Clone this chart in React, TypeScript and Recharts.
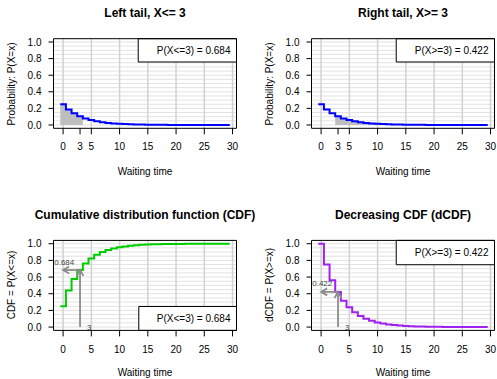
import React from 'react';
import { ComposedChart, Line, Area, XAxis, YAxis, CartesianGrid, ReferenceArea, ReferenceLine, ReferenceDot } from 'recharts';

// geometric distribution, waiting time values
const waiting = [0, 1, 2, 3, 4, 5, 6, 7, 8, 9, 10, 11, 12, 13, 14, 15, 16, 17, 18, 19, 20, 21, 22, 23, 24, 25, 26, 27, 28, 29];
const pmf = [0.25, 0.1875, 0.1406, 0.1055, 0.0791, 0.0593, 0.0445, 0.0334, 0.025, 0.0188, 0.0141, 0.0106, 0.0079, 0.0059, 0.0045, 0.0033, 0.0025, 0.0019, 0.0014, 0.0011, 0.0008, 0.0006, 0.0004, 0.0003, 0.0003, 0.0002, 0.0001, 0.0001, 0.0001, 0.0001];
const cdf = [0.25, 0.4375, 0.5781, 0.6836, 0.7627, 0.822, 0.8665, 0.8999, 0.9249, 0.9437, 0.9578, 0.9683, 0.9762, 0.9822, 0.9866, 0.99, 0.9925, 0.9944, 0.9958, 0.9968, 0.9976, 0.9982, 0.9987, 0.999, 0.9992, 0.9994, 0.9996, 0.9997, 0.9998, 0.9998];
const dcdf = [1, 0.75, 0.5625, 0.4219, 0.3164, 0.2373, 0.178, 0.1335, 0.1001, 0.0751, 0.0563, 0.0422, 0.0317, 0.0238, 0.0178, 0.0134, 0.01, 0.0075, 0.0056, 0.0042, 0.0032, 0.0024, 0.0018, 0.0013, 0.001, 0.0008, 0.0006, 0.0004, 0.0003, 0.0002];

const cutoff = 3;
const cdfAt = 0.684;
const dcdfAt = 0.422;
const leftLegend = 'P(X<=3) = 0.684';
const rightLegend = 'P(X>=3) = 0.422';

const xTicksTop = [0, 3, 5, 10, 15, 20, 25, 30];
const xTicksBottom = [0, 5, 10, 15, 20, 25, 30];
const yTicks = [0, 0.2, 0.4, 0.6, 0.8, 1];
const hGrid = [0, 0.05, 0.1, 0.15, 0.2, 0.25, 0.3, 0.35, 0.4, 0.45, 0.5, 0.55, 0.6, 0.65, 0.7, 0.75, 0.8, 0.85, 0.9, 0.95, 1];
const vGrid = [0, 5, 10, 15, 20, 25, 30];

const XDOM: [number, number] = [-1.7, 30.7];
const YDOM: [number, number] = [-0.04, 1.04];

// step edges sit half way between integers
const last = waiting.length - 1;
const rows = [
  ...waiting.map((k, i) => ({
    x: k - 0.5,
    pmf: pmf[i],
    cdf: cdf[i],
    dcdf: dcdf[i],
    left: k <= cutoff + 1 ? pmf[i] : null,
    right: k >= cutoff ? pmf[i] : null,
  })),
  { x: waiting[last] + 0.5, pmf: pmf[last], cdf: cdf[last], dcdf: dcdf[last], left: null, right: pmf[last] },
];

const FONT = '"Liberation Sans", Arial, Helvetica, sans-serif';

const arrowShape = (p: any) => {
  const { x1, y1, x2, y2 } = p;
  const a = Math.atan2(y2 - y1, x2 - x1);
  const L = 7;
  const s = Math.PI / 6;
  const hx1 = x2 - L * Math.cos(a - s), hy1 = y2 - L * Math.sin(a - s);
  const hx2 = x2 - L * Math.cos(a + s), hy2 = y2 - L * Math.sin(a + s);
  return (
    <g stroke="#8c8c8c" strokeWidth={1.8} fill="none">
      <line x1={x1} y1={y1} x2={x2} y2={y2} />
      <path d={`M${hx1},${hy1}L${x2},${y2}L${hx2},${hy2}`} />
    </g>
  );
};

const smallText = (txt: string, dx: number, dy: number, anchor: string) => (p: any) => (
  <text x={p.cx + dx} y={p.cy + dy} textAnchor={anchor} dominantBaseline="central" fontSize={8} fill="#444">
    {txt}
  </text>
);

type Plot = { l: number; r: number; t: number; b: number };

function Panel(props: {
  left: number; top: number; width: number; height: number; plot: Plot;
  title: string; titleY: number; xlabelY: number; ylabel: string; ylabelX: number;
  xTicks: number[]; children: React.ReactNode;
}) {
  const { left, top, width, height, plot } = props;
  const yAxisW = 40;
  const xAxisH = 30;
  const margin = { top: plot.t, right: width - plot.r, bottom: height - plot.b - xAxisH, left: plot.l - yAxisW };
  const cx = (plot.l + plot.r) / 2;
  const cy = (plot.t + plot.b) / 2;
  const center: React.CSSProperties = { position: 'absolute', whiteSpace: 'nowrap', lineHeight: 1, color: '#000' };
  return (
    <div style={{ position: 'absolute', left, top, width, height }}>
      <ComposedChart width={width} height={height} data={rows} margin={margin}>
        <CartesianGrid horizontal vertical={false} horizontalValues={hGrid} stroke="#e2e2e2" strokeWidth={1} />
        <CartesianGrid horizontal={false} vertical verticalValues={vGrid} stroke="#d2d2d2" strokeWidth={1.5} />
        <XAxis
          type="number" dataKey="x" domain={XDOM} allowDataOverflow ticks={props.xTicks} interval={0}
          height={xAxisH} tickSize={6} tickMargin={9} axisLine={false}
          tickLine={{ stroke: '#000' }} tick={{ fill: '#000', fontSize: 10 }}
        />
        <YAxis
          type="number" domain={YDOM} allowDataOverflow ticks={yTicks} interval={0}
          width={yAxisW} tickSize={5} tickMargin={7} axisLine={false}
          tickLine={{ stroke: '#000' }} tick={{ fill: '#000', fontSize: 10 }}
          tickFormatter={(v: number) => v.toFixed(1)}
        />
        {props.children}
        <ReferenceArea x1={XDOM[0]} x2={XDOM[1]} y1={YDOM[0]} y2={YDOM[1]} fill="none" stroke="#000" strokeWidth={1} ifOverflow="visible" />
      </ComposedChart>
      <div style={{ ...center, left: cx, top: props.titleY, transform: 'translate(-50%,-50%)', fontSize: 12, fontWeight: 'bold' }}>{props.title}</div>
      <div style={{ ...center, left: cx, top: props.xlabelY, transform: 'translate(-50%,-50%)', fontSize: 10 }}>Waiting time</div>
      <div style={{ ...center, left: props.ylabelX, top: cy, transform: 'translate(-50%,-50%) rotate(-90deg)', fontSize: 10 }}>{props.ylabel}</div>
    </div>
  );
}

const legendLabel = (v: string) => ({ value: v, position: 'insideRight' as const, offset: 6, fill: '#000', fontSize: 10 });

export default function App() {
  const topPlotL: Plot = { l: 53.5, r: 236.5, t: 38.7, b: 128.3 };
  const topPlotR: Plot = { l: 63.5, r: 246.5, t: 38.7, b: 128.3 };
  const botPlotL: Plot = { l: 53.5, r: 236.5, t: 50.4, b: 140.4 };
  const botPlotR: Plot = { l: 63.5, r: 246.5, t: 50.4, b: 140.4 };
  return (
    <div style={{ position: 'absolute', left: 0, top: 0, width: 497, height: 379, background: '#fff', fontFamily: FONT, overflow: 'hidden' }}>
      <Panel left={0} top={0} width={248} height={190} plot={topPlotL} title="Left tail, X<= 3" titleY={13} xlabelY={172}
        ylabel="Probability: P(X=x)" ylabelX={11.7} xTicks={xTicksTop}>
        <Area type="stepAfter" dataKey="left" baseValue={0} stroke="none" fill="#bebebe" fillOpacity={1} isAnimationActive={false} connectNulls={false} />
        <Line type="stepAfter" dataKey="pmf" stroke="#0000ff" strokeWidth={2} dot={false} isAnimationActive={false} />
        <ReferenceArea x1={13.3} x2={XDOM[1]} y1={0.759} y2={YDOM[1]} fill="#fff" fillOpacity={1} stroke="#000" ifOverflow="visible" label={legendLabel(leftLegend)} />
      </Panel>
      <Panel left={248} top={0} width={249} height={190} plot={topPlotR} title="Right tail, X>= 3" titleY={13} xlabelY={172}
        ylabel="Probability: P(X=x)" ylabelX={21.7} xTicks={xTicksTop}>
        <Area type="stepAfter" dataKey="right" baseValue={0} stroke="none" fill="#bebebe" fillOpacity={1} isAnimationActive={false} connectNulls={false} />
        <Line type="stepAfter" dataKey="pmf" stroke="#0000ff" strokeWidth={2} dot={false} isAnimationActive={false} />
        <ReferenceArea x1={13.3} x2={XDOM[1]} y1={0.759} y2={YDOM[1]} fill="#fff" fillOpacity={1} stroke="#000" ifOverflow="visible" label={legendLabel(rightLegend)} />
      </Panel>
      <Panel left={0} top={190} width={248} height={189} plot={botPlotL} title="Cumulative distribution function (CDF)" titleY={25} xlabelY={183}
        ylabel="CDF = P(X<=x)" ylabelX={11.7} xTicks={xTicksBottom}>
        <Line type="stepAfter" dataKey="cdf" stroke="#00cd00" strokeWidth={2} dot={false} isAnimationActive={false} />
        <ReferenceLine segment={[{ x: cutoff, y: 0 }, { x: cutoff, y: cdfAt }]} shape={arrowShape} ifOverflow="visible" />
        <ReferenceLine segment={[{ x: cutoff, y: cdfAt }, { x: 0, y: cdfAt }]} shape={arrowShape} ifOverflow="visible" />
        <ReferenceDot x={0.2} y={cdfAt} r={0} ifOverflow="visible" shape={smallText(cdfAt.toFixed(3), 0, -8, 'middle')} />
        <ReferenceDot x={cutoff} y={0} r={0} ifOverflow="visible" shape={smallText(String(cutoff), 7, 0, 'start')} />
        <ReferenceArea x1={13.4} x2={XDOM[1]} y1={YDOM[0]} y2={0.247} fill="#fff" fillOpacity={1} stroke="#000" ifOverflow="visible" label={legendLabel(leftLegend)} />
      </Panel>
      <Panel left={248} top={190} width={249} height={189} plot={botPlotR} title="Decreasing CDF (dCDF)" titleY={25} xlabelY={183}
        ylabel="dCDF = P(X>=x)" ylabelX={21.7} xTicks={xTicksBottom}>
        <Line type="stepAfter" dataKey="dcdf" stroke="#a020f0" strokeWidth={2} dot={false} isAnimationActive={false} />
        <ReferenceLine segment={[{ x: cutoff, y: 0 }, { x: cutoff, y: dcdfAt }]} shape={arrowShape} ifOverflow="visible" />
        <ReferenceLine segment={[{ x: cutoff, y: dcdfAt }, { x: 0, y: dcdfAt }]} shape={arrowShape} ifOverflow="visible" />
        <ReferenceDot x={0.2} y={dcdfAt} r={0} ifOverflow="visible" shape={smallText(dcdfAt.toFixed(3), 0, -8, 'middle')} />
        <ReferenceDot x={cutoff} y={0} r={0} ifOverflow="visible" shape={smallText(String(cutoff), 7, 0, 'start')} />
        <ReferenceArea x1={13.3} x2={XDOM[1]} y1={0.748} y2={YDOM[1]} fill="#fff" fillOpacity={1} stroke="#000" ifOverflow="visible" label={legendLabel(rightLegend)} />
      </Panel>
    </div>
  );
}
